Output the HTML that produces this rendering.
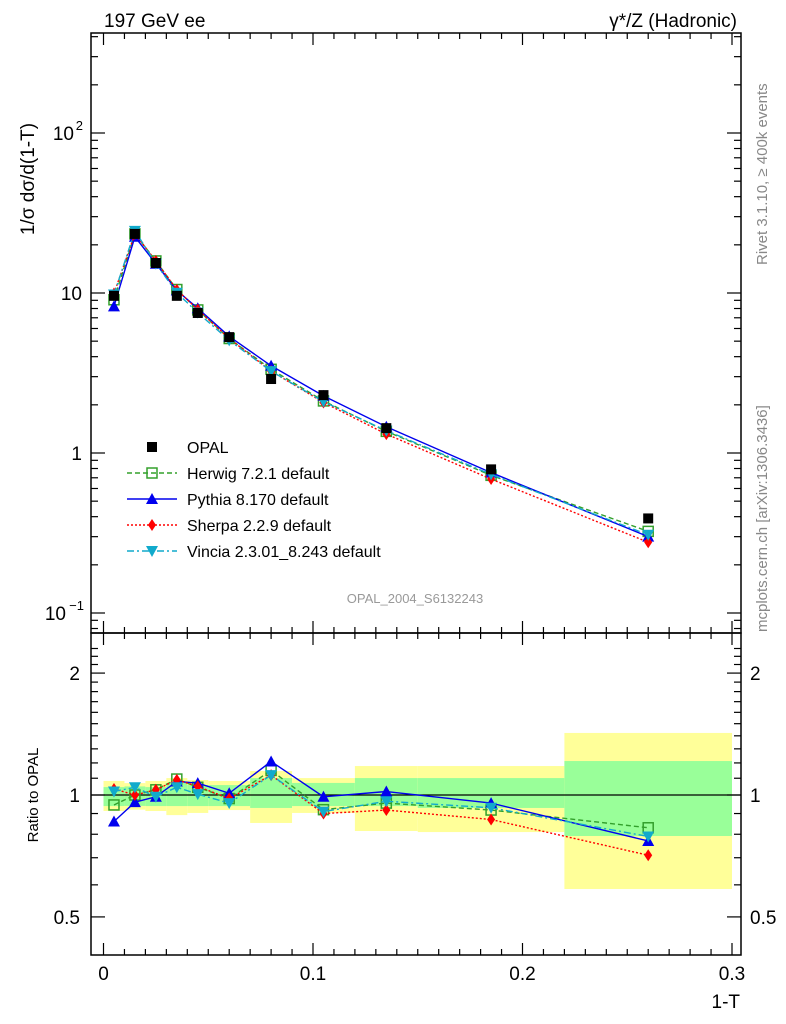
<!DOCTYPE html>
<html><head><meta charset="utf-8"><style>
html,body{margin:0;padding:0;background:#fff;}
svg{display:block;font-family:"Liberation Sans",sans-serif;}
</style></head><body>
<svg id="chart" width="786" height="1024" viewBox="0 0 786 1024" xmlns="http://www.w3.org/2000/svg">
<text x="104" y="27" font-size="19">197 GeV ee</text>
<text x="737" y="27" font-size="19" text-anchor="end">γ*/Z (Hadronic)</text>
<text transform="translate(767,265) rotate(-90)" font-size="15" fill="#888">Rivet 3.1.10, ≥ 400k events</text>
<text transform="translate(767,632) rotate(-90)" font-size="15" fill="#888">mcplots.cern.ch [arXiv:1306.3436]</text>
<text transform="translate(34,179) rotate(-90)" font-size="19" text-anchor="middle">1/σ dσ/d(1-T)</text>
<text transform="translate(38,795) rotate(-90)" font-size="15" text-anchor="middle">Ratio to OPAL</text>
<text x="740" y="1008" font-size="19" text-anchor="end">1-T</text>
<text x="415" y="603" font-size="13" fill="#999" text-anchor="middle">OPAL_2004_S6132243</text>
<g id="bands"></g>
<g id="axes"></g>
<g id="series"></g>
<g id="legend"></g>
</svg>
<script>
const binEdges=[0,0.01,0.02,0.03,0.04,0.05,0.07,0.09,0.12,0.15,0.22,0.30];
const xCenters=[0.005,0.015,0.025,0.035,0.045,0.06,0.08,0.105,0.135,0.185,0.26];
const opal=[9.6,23.4,15.4,9.6,7.5,5.3,2.9,2.3,1.43,0.79,0.39];
const herwigRatio=[0.945,1.0,1.03,1.095,1.045,0.98,1.15,0.92,0.955,0.918,0.83];
const pythiaRatio=[0.86,0.96,0.99,1.08,1.07,1.01,1.21,0.99,1.02,0.955,0.77];
const sherpaRatio=[1.035,1.0,1.03,1.09,1.05,0.98,1.12,0.90,0.918,0.87,0.71];
const vinciaRatio=[1.02,1.045,0.99,1.045,1.005,0.955,1.12,0.91,0.965,0.93,0.79];
const yellowHi=[1.083,1.07,1.083,1.101,1.089,1.083,1.146,1.101,1.179,1.179,1.423];
const yellowLo=[0.913,0.92,0.913,0.892,0.903,0.918,0.853,0.903,0.815,0.810,0.586];
const greenHi=[1.046,1.05,1.046,1.071,1.058,1.058,1.101,1.071,1.101,1.101,1.213];
const greenLo=[0.939,0.94,0.939,0.939,0.939,0.939,0.929,0.939,0.939,0.929,0.792];
const xTickLabels=["0","0.1","0.2","0.3"];
const xTickVals=[0,0.1,0.2,0.3];

const NS="http://www.w3.org/2000/svg";
const L=91,R=741,T=33,M=633,B=955;
const xs=v=>103.5+v*2095;
const ym=v=>453-160*Math.log10(v);
const yr=v=>795-405*Math.log10(v);
function mk(tag,attrs,parent){const e=document.createElementNS(NS,tag);for(const k in attrs)e.setAttribute(k,attrs[k]);parent.appendChild(e);return e;}
const gB=document.getElementById('bands'),gA=document.getElementById('axes'),gS=document.getElementById('series'),gL=document.getElementById('legend');

for(let i=0;i<xCenters.length;i++){
 const x0=xs(binEdges[i]),x1=xs(binEdges[i+1]);
 let r=mk('rect',{x:x0,y:yr(yellowHi[i]),width:x1-x0,height:yr(yellowLo[i])-yr(yellowHi[i]),fill:'#ffff99'},gB);
 
 
 r=mk('rect',{x:x0,y:yr(greenHi[i]),width:x1-x0,height:yr(greenLo[i])-yr(greenHi[i]),fill:'#99ff99'},gB);
 
 
}
mk('line',{x1:L,x2:R,y1:yr(1),y2:yr(1),stroke:'#000','stroke-width':1.2},gB);

for(const [y0,y1,nm] of [[T,M,'main-frame'],[M,B,'ratio-frame']]){
 const f=mk('rect',{x:L,y:y0,width:R-L,height:y1-y0,fill:'none',stroke:'#000','stroke-width':1.5},gA);
 
 
 for(let k=0;k<=30;k++){const x=xs(k/100);const len=k%10===0?12:6;
  mk('line',{x1:x,x2:x,y1:y1,y2:y1-len,stroke:'#000','stroke-width':1.2},gA);
  mk('line',{x1:x,x2:x,y1:y0,y2:y0+len,stroke:'#000','stroke-width':1.2},gA);}
}
xTickVals.forEach((v,i)=>{const t=mk('text',{x:xs(v),y:980,'font-size':19,'text-anchor':'middle'},gA);t.textContent=xTickLabels[i];
 
 });
for(let d=-2;d<=2;d++)for(let m=1;m<10;m++){const v=m*Math.pow(10,d);const y=ym(v);if(y<T||y>M)continue;const len=m===1?14:7;
 mk('line',{x1:L,x2:L+len,y1:y,y2:y,stroke:'#000','stroke-width':1.2},gA);
 mk('line',{x1:R,x2:R-len,y1:y,y2:y,stroke:'#000','stroke-width':1.2},gA);}
const yl=[[0.1,'10',"−1"],[1,'1',null],[10,'10',null],[100,'10','2']];
yl.forEach(([v,b,e])=>{const t=mk('text',{x:e?(e==='2'?74:66):82,y:ym(v)+7,'font-size':19,'text-anchor':'end'},gA);t.textContent=b;
 
 
 if(e){const s=mk('text',{x:e==='2'?83:84,y:ym(v)-3,'font-size':13,'text-anchor':'end'},gA);s.textContent=e;}});
for(let k=5;k<=23;k++){const v=k/10;const y=yr(v);if(y<M||y>B)continue;const len=(k===5||k===10||k===20)?14:7;
 mk('line',{x1:L,x2:L+len,y1:y,y2:y,stroke:'#000','stroke-width':1.2},gA);
 mk('line',{x1:R,x2:R-len,y1:y,y2:y,stroke:'#000','stroke-width':1.2},gA);}
[[0.5,'0.5'],[1,'1'],[2,'2']].forEach(([v,s])=>{
 let t=mk('text',{x:80,y:yr(v)+7,'font-size':19,'text-anchor':'end'},gA);t.textContent=s;
 
 
 t=mk('text',{x:750,y:yr(v)+7,'font-size':19},gA);t.textContent=s;
 
 });

function marker(kind,x,y,color,parent){
 if(kind==='sq')return mk('rect',{x:x-5,y:y-5,width:10,height:10,fill:'#000'},parent);
 if(kind==='osq')return mk('rect',{x:x-5,y:y-5,width:10,height:10,fill:'none',stroke:color,'stroke-width':1.5},parent);
 if(kind==='tri')return mk('polygon',{points:`${x},${y-6} ${x-6},${y+5} ${x+6},${y+5}`,fill:color},parent);
 if(kind==='dia')return mk('polygon',{points:`${x},${y-6} ${x-4},${y} ${x},${y+6} ${x+4},${y}`,fill:color},parent);
 if(kind==='itri')return mk('polygon',{points:`${x},${y+6} ${x-6},${y-5} ${x+6},${y-5}`,fill:color},parent);
}
const series=[
 {name:'herwig',ratio:herwigRatio,color:'#33a02c',dash:'5,3',kind:'osq'},
 {name:'pythia',ratio:pythiaRatio,color:'#0000ee',dash:'',kind:'tri'},
 {name:'sherpa',ratio:sherpaRatio,color:'#ff0000',dash:'2,2',kind:'dia'},
 {name:'vincia',ratio:vinciaRatio,color:'#11aacc',dash:'7,3,2,3',kind:'itri'}];
series.forEach(s=>{
 const pm=xCenters.map((x,i)=>xs(x)+','+ym(opal[i]*s.ratio[i])).join(' ');
 const pr=xCenters.map((x,i)=>xs(x)+','+yr(s.ratio[i])).join(' ');
 let p=mk('polyline',{points:pm,fill:'none',stroke:s.color,'stroke-width':1.4,'stroke-dasharray':s.dash},gS);
 
 
 p=mk('polyline',{points:pr,fill:'none',stroke:s.color,'stroke-width':1.4,'stroke-dasharray':s.dash},gS);
 
 
 xCenters.forEach((x,i)=>{
  let m=marker(s.kind,xs(x),ym(opal[i]*s.ratio[i]),s.color,gS);
  
  
  m=marker(s.kind,xs(x),yr(s.ratio[i]),s.color,gS);
  
  });
});
xCenters.forEach((x,i)=>{const m=marker('sq',xs(x),ym(opal[i]),'#000',gS);
 
 });

const legendLabels=['OPAL','Herwig 7.2.1 default','Pythia 8.170 default','Sherpa 2.2.9 default','Vincia 2.3.01_8.243 default'];
legendLabels.forEach((lab,i)=>{const y=447+26*i;
 const g=mk('g',{},gL);
 
 
 if(i>0){const s=series[i-1];mk('line',{x1:127,x2:177,y1:y,y2:y,stroke:s.color,'stroke-width':1.4,'stroke-dasharray':s.dash},g);marker(s.kind,152,y,s.color,g);}
 else marker('sq',152,y,'#000',g);
 const t=mk('text',{x:187,y:y+6,'font-size':16},g);t.textContent=lab;});
</script>
</body></html>
